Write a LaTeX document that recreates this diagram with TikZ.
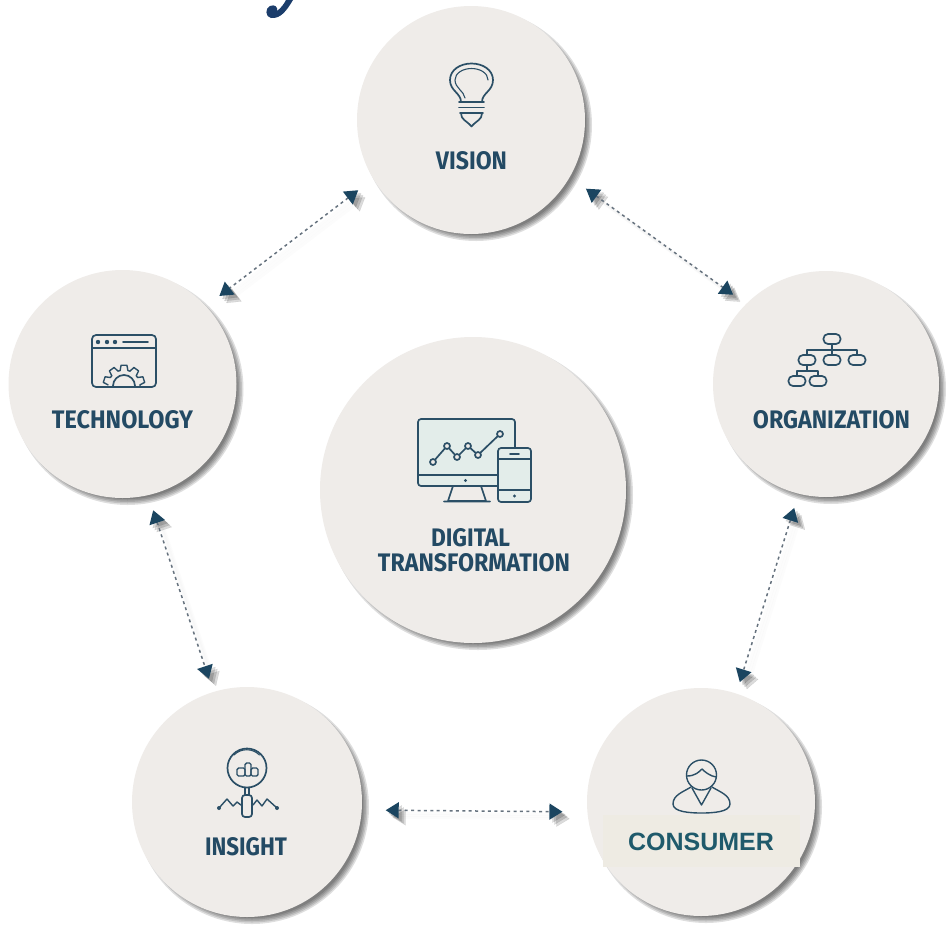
\documentclass[tikz,border=0pt]{standalone}
\usepackage{fontspec}
\usepackage{graphicx}
\setmainfont{Fira Sans}
\newfontfamily\arialfont{Liberation Sans}
\usetikzlibrary{arrows.meta}
\definecolor{discbg}{HTML}{EFECE9}
\definecolor{inktone}{HTML}{2B4F66}
\definecolor{labeltone}{HTML}{234A64}
\definecolor{tiptone}{HTML}{1B4560}
\definecolor{dashtone}{HTML}{66727E}
\definecolor{patchbg}{HTML}{EEEBE3}
\definecolor{consumertone}{HTML}{1F5A6B}
\definecolor{topnavy}{HTML}{1B3D6B}
\newcommand{\fitlabel}[3]{\resizebox{#1pt}{#2pt}{\bfseries #3}}
\newcommand{\softdisc}[3]{%
  \foreach \k in {-3,-1.5,0,1.5,3}{
    \fill[black,opacity=.13] ({#1+5},{#2+5}) circle ({#3-1+\k});
  }%
}
\newcommand{\linkup}[4]{%
  \foreach \d in {3,5,7}{
    \draw[line width=3pt,draw=black,opacity=.012,shorten <=#3pt,shorten >=#4pt]
      ([shift={(\d,\d)}]#1) -- ([shift={(\d,\d)}]#2);
    \draw[draw=black,opacity=.14,line width=.1pt,dash pattern=on 0pt off 2000pt,shorten <=#3pt,shorten >=#4pt,
      {Triangle[length=13pt,width=16pt,color=black,fill=black]}-{Triangle[length=13pt,width=16pt,color=black,fill=black]}]
      ([shift={(\d,\d)}]#1) -- ([shift={(\d,\d)}]#2);
  }
  \draw[linkstyle,shorten <=#3pt,shorten >=#4pt] (#1) -- (#2);%
}
\tikzset{
  disc/.style={circle,fill=discbg,inner sep=0pt,outer sep=0pt,minimum size=#1},
  lbl/.style={text=labeltone,inner sep=0pt,outer sep=0pt,anchor=center},
  iconline/.style={draw=inktone,line width=1.7pt,line join=round,line cap=round},
  linkstyle/.style={draw=dashtone,line width=1.5pt,dash pattern=on 3pt off 3.4pt,
    {Triangle[length=13pt,width=16pt,color=tiptone,fill=tiptone]}-{Triangle[length=13pt,width=16pt,color=tiptone,fill=tiptone]}},
}
\begin{document}
\begin{tikzpicture}[x=1pt,y=-1pt]
\useasboundingbox (0,0) rectangle (951,930);
\fill[white] (0,0) rectangle (951,930);

% fragment of a cropped headline
\fill[topnavy] (293,0) .. controls (287,10) and (281,19) .. (271,18)
  .. controls (265,17) and (265,8) .. (270,6)
  .. controls (275,4) and (278,7) .. (277,11)
  .. controls (281,8) and (284,4) .. (286,0) -- cycle;

% shadows
\softdisc{471}{120}{114}
\softdisc{122.5}{384}{114}
\softdisc{826}{384}{113}
\softdisc{473}{490}{153}
\softdisc{247}{802}{115}
\softdisc{701}{802}{114}

% discs
\node[disc=228pt] (vision) at (471,120) {};
\node[disc=228pt] (technology) at (122.5,384) {};
\node[disc=226pt] (organization) at (826,384) {};
\node[disc=306pt] (digital) at (473,490) {};
\node[disc=230pt] (insight) at (247,802) {};
\node[disc=228pt] (consumer) at (701,802) {};
\node[fill=patchbg,inner sep=0pt,minimum width=197pt,minimum height=52pt] (patch) at (701.5,841) {};

% connectors
\linkup{vision.211.8}{technology.43.9}{19}{17}
\linkup{vision.330}{organization.135.3}{20}{16}
\linkup{technology.283.1}{insight.107.2}{16}{14}
\linkup{organization.256}{consumer.72.9}{15}{12}
\linkup{insight.356.3}{consumer.185}{24}{25}

% labels
\node[lbl] (tvision) at (471.5,161) {\fitlabel{71}{18}{VISION}};
\node[lbl] (ttech) at (122.5,420) {\fitlabel{141}{18}{TECHNOLOGY}};
\node[lbl] (torg) at (831.5,420) {\fitlabel{157}{18}{ORGANIZATION}};
\node[lbl] (tdig) at (470.5,538) {\fitlabel{79}{18}{DIGITAL}};
\node[lbl] (ttrans) at (474,563) {\fitlabel{192}{18}{TRANSFORMATION}};
\node[lbl] (tins) at (246,847) {\fitlabel{82}{18}{INSIGHT}};
\node[lbl,text=consumertone] (tcons) at (701,842) {\arialfont\bfseries\fontsize{25}{30}\selectfont CONSUMER};

% bulb icon
\draw[iconline] (461,102) .. controls (461,93) and (450,91) .. (450,80)
  .. controls (450,70) and (460,63.5) .. (471.5,63.5)
  .. controls (483,63.5) and (493,70) .. (493,80)
  .. controls (493,91) and (482,93) .. (482,102);
\draw[iconline,line width=1.1pt] (465,98) .. controls (464,91) and (455,88) .. (455,80)
  .. controls (455,73) and (463,68.5) .. (471.5,68.5)
  .. controls (480,68.5) and (488,73) .. (488,80);
\draw[iconline] (459,102) -- (484,102) (459,107.5) -- (484,107.5) (460,113) -- (483,113);
\draw[iconline] (461,113) .. controls (461,120) and (466,120) .. (471.5,126.5)
  .. controls (477,120) and (482,120) .. (482,113);

% monitor and phone icon
\draw[iconline,fill=discbg!95!cyan,rounded corners=3pt] (418,419) rectangle (515,486);
\draw[iconline] (418,475) -- (515,475);
\fill[inktone] (465.5,480.5) circle (1.7);
\draw[iconline] (453,486) -- (448,501) -- (486,501) -- (481,486) (444,501.5) -- (490,501.5);
\draw[iconline] (433,462) -- (447,446) -- (457,457) -- (468,446) -- (478,455) -- (500,434);
\foreach \px/\py in {433/462,447/446,457/457,468/446,478/455,500/434}{
  \draw[iconline,fill=discbg] (\px,\py) circle (3);
}
\draw[iconline,fill=discbg!95!cyan,rounded corners=3pt] (498,448) rectangle (531,502);
\draw[iconline] (498,459) -- (531,459) (498,490) -- (531,490) (510,454) -- (519,454);
\fill[inktone] (514.5,496) circle (1.7);

% window and gear icon
\draw[iconline,rounded corners=4pt] (92,335) rectangle (156,387);
\draw[iconline] (92,348) -- (156,348) (123,342) -- (148,342);
\foreach \dx in {98,107,115}{\fill[inktone] (\dx,342) circle (2.2);}
\begin{scope}[shift={(124,386)}]
  \foreach \t in {198,234,270,306,342}{
    \draw[iconline,line width=1.4pt] (\t-14:16) -- (\t-8:21) -- (\t+8:21) -- (\t+14:16) -- (\t+22:16);
  }
  \draw[iconline] (180:11) arc[start angle=180,end angle=360,radius=11];
\end{scope}

% organisation chart icon
\draw[iconline] (832,344) -- (832,355) (807,360) -- (807,350) -- (857,350) -- (857,360) (832,350) -- (832,360)
  (807,365) -- (807,371) (797,381) -- (797,371) -- (818,371) -- (818,381);
\foreach \cx/\cy in {832/339,807/360,832/360,857/360,797/381,818/381}{
  \draw[iconline,fill=discbg,rounded corners=4.5pt] ({\cx-8.5},{\cy-5}) rectangle ({\cx+8.5},{\cy+5});
}

% magnifier icon
\draw[iconline] (247,768) circle (19.5);
\draw[iconline,line width=1.1pt] (234,755) arc[start angle=225,end angle=315,radius=18];
\draw[iconline,line width=1.4pt,rounded corners=1.5pt] (237,776) rectangle (245,768);
\draw[iconline,line width=1.4pt,rounded corners=1.5pt] (245,776) rectangle (251,763);
\draw[iconline,line width=1.4pt,rounded corners=1.5pt] (251,776) rectangle (258,768);
\draw[iconline] (245,788) -- (245,795) (249,788) -- (249,795);
\draw[iconline,rounded corners=3pt] (242,795) rectangle (252,817);
\draw[iconline,line width=1.4pt] (219,808) -- (227,799) -- (233,806) -- (237,802) -- (241,805)
  (253,805) -- (257,800) -- (262,806) -- (267,799) -- (277,808);
\fill[inktone] (219,808) circle (2) (277,808) circle (2);

% person icon
\draw[iconline,line width=1.4pt] (701.5,775) circle (15);
\draw[iconline,line width=1.4pt] (687,776) .. controls (695,776) and (699,772) .. (702,769)
  .. controls (705,772) and (710,776) .. (716,777);
\draw[iconline,line width=1.4pt] (691,787) .. controls (683,792) and (673,795) .. (673,804)
  .. controls (673,812) and (690,813) .. (701.5,813)
  .. controls (713,813) and (730,812) .. (730,804)
  .. controls (730,795) and (720,792) .. (712,787);
\draw[iconline,line width=1.4pt] (692,788) -- (701.5,805) -- (711,788);
\end{tikzpicture}
\end{document}
